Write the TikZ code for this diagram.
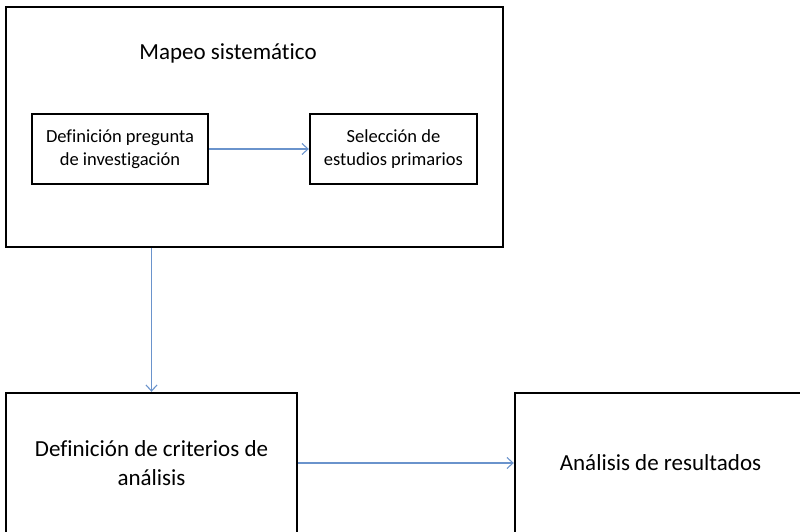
\documentclass[tikz,border=0pt]{standalone}
\usepackage{fontspec}
\setmainfont{Carlito}[Ligatures=NoCommon]
\usetikzlibrary{positioning,fit,calc,arrows.meta}
\definecolor{azul}{HTML}{6A93CC}
\tikzset{caja/.style={draw, line width=2.4pt, inner sep=0pt, align=center}}
\tikzset{cajachica/.style={caja, minimum width=#1, minimum height=70pt, font=\fontsize{18.5}{22.5}\selectfont}}
\tikzset{cajagrande/.style={caja, minimum width=291pt, minimum height=140pt, font=\fontsize{23}{28.5}\selectfont}}
\tikzset{flecha/.style={draw=azul, line width=1.1pt, -{Straight Barb[length=6pt,width=11pt]}}}

\begin{document}
\begin{tikzpicture}[x=1pt, y=-1pt]
		\useasboundingbox (0,0) rectangle (800,532);
		\clip (0,0) rectangle (800,532);
		\node[caja, minimum width=497pt, minimum height=240pt] (mapeo) at (254.5,127) {};
		\node[font=\fontsize{23}{28}\selectfont] (titulo) at (228,53) {Mapeo sistemático};
		\node[cajachica=176pt] (pregunta) at (120,149)
			{Definición pregunta\\de investigación};
		\node[cajachica=167pt, right=99.6pt of pregunta] (seleccion)
			{Selección de\\estudios primarios};
		\node[cajagrande] (criterios) at (151.5,463)
			{Definición de criterios de\\análisis};
		\node[cajagrande, right=215.6pt of criterios] (resultados)
			{Análisis de resultados};
		\draw[flecha] (pregunta) -- (seleccion);
		\draw[flecha] (mapeo.south -| criterios.north) -- (criterios);
		\draw[flecha] (criterios) -- (resultados);
	\end{tikzpicture}
\end{document}
